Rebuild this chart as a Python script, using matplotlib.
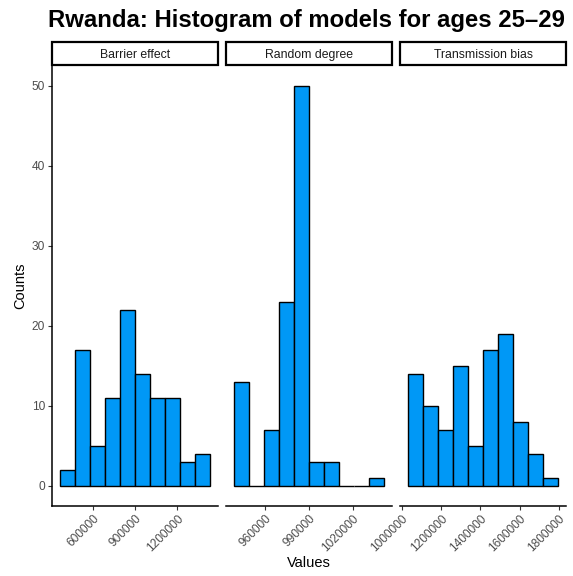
import numpy as np
import matplotlib as mpl
import matplotlib.pyplot as plt
from matplotlib.patches import Rectangle
from matplotlib.ticker import FixedLocator

mpl.rcParams['font.family'] = ['Liberation Sans', 'DejaVu Sans']

# histogram bins per model (edges) and counts
barrier_edges = [359000, 467000, 575000, 683000, 791000, 899000,
                 1007000, 1115000, 1223000, 1331000, 1439000]
barrier_counts = [2, 17, 5, 11, 22, 14, 11, 11, 3, 4]

random_edges = [938600, 948900, 959200, 969500, 979800, 990100,
                1000400, 1010700, 1021000, 1031300, 1041600]
random_counts = [13, 0, 7, 23, 50, 3, 3, 0, 0, 1]

transmission_edges = [1028800, 1105700, 1182600, 1259500, 1336400, 1413300,
                      1490200, 1567100, 1644000, 1720900, 1797800]
transmission_counts = [14, 10, 7, 15, 5, 17, 19, 8, 4, 1]

panel_names = ['Barrier effect', 'Random degree', 'Transmission bias']
x_ticks = [[600000, 900000, 1200000],
           [960000, 990000, 1020000],
           [1000000, 1200000, 1400000, 1600000, 1800000]]
y_ticks = [0, 10, 20, 30, 40, 50]

panels = [(barrier_edges, barrier_counts),
          (random_edges, random_counts),
          (transmission_edges, transmission_counts)]

W, H = 573, 576
fig = plt.figure(figsize=(W / 100, H / 100), dpi=100)

fill = '#0098F6'
left0, pw, gap = 52, 166, 8
top, bottom = 66, 506
ph = bottom - top

for i, (edges, counts) in enumerate(panels):
    x0 = left0 + i * (pw + gap)
    ax = fig.add_axes([x0 / W, 1 - bottom / H, pw / W, ph / H])
    edges = np.array(edges)
    ax.bar(edges[:-1], counts, width=np.diff(edges), align='edge',
           color=fill, edgecolor='black', linewidth=1.0)
    span = edges[-1] - edges[0]
    ax.set_xlim(edges[0] - 0.05 * span, edges[-1] + 0.05 * span)
    ax.set_ylim(-2.5, 52.5)

    for s in ['top', 'right']:
        ax.spines[s].set_visible(False)
    ax.spines['bottom'].set_linewidth(1.1)
    ax.spines['left'].set_linewidth(1.1)

    ax.xaxis.set_major_locator(FixedLocator(x_ticks[i]))
    ax.set_xticklabels([str(v) for v in x_ticks[i]], rotation=45,
                       ha='right', rotation_mode='anchor')
    ax.tick_params(axis='both', length=3, width=0.8, color='#333333',
                   labelsize=8.6, labelcolor='#4D4D4D', pad=2)
    if i == 0:
        ax.set_yticks(y_ticks)
        ax.set_yticklabels([str(v) for v in y_ticks])
        ax.set_ylabel('Counts', fontsize=10.5, labelpad=3)
    else:
        ax.spines['left'].set_visible(False)
        ax.set_yticks([])

    # facet strip
    strip = Rectangle((0, 1 + 1.5 / ph), 1, 22 / ph,
                      transform=ax.transAxes, facecolor='white',
                      edgecolor='black', linewidth=1.6, clip_on=False)
    ax.add_patch(strip)
    ax.text(0.5, 1 + 12.5 / ph, panel_names[i], transform=ax.transAxes,
            ha='center', va='center_baseline', fontsize=8.8, color='#1A1A1A')

fig.text((left0 + (3 * pw + 2 * gap) / 2) / W, 1 - 563 / H, 'Values',
         ha='center', va='center', fontsize=10.5)
fig.text(48 / W, 1 - 21 / H, 'Rwanda: Histogram of models for ages 25\u201329',
         ha='left', va='center', fontsize=17.2, fontweight='bold')

fig.savefig('out.png', dpi=100)
